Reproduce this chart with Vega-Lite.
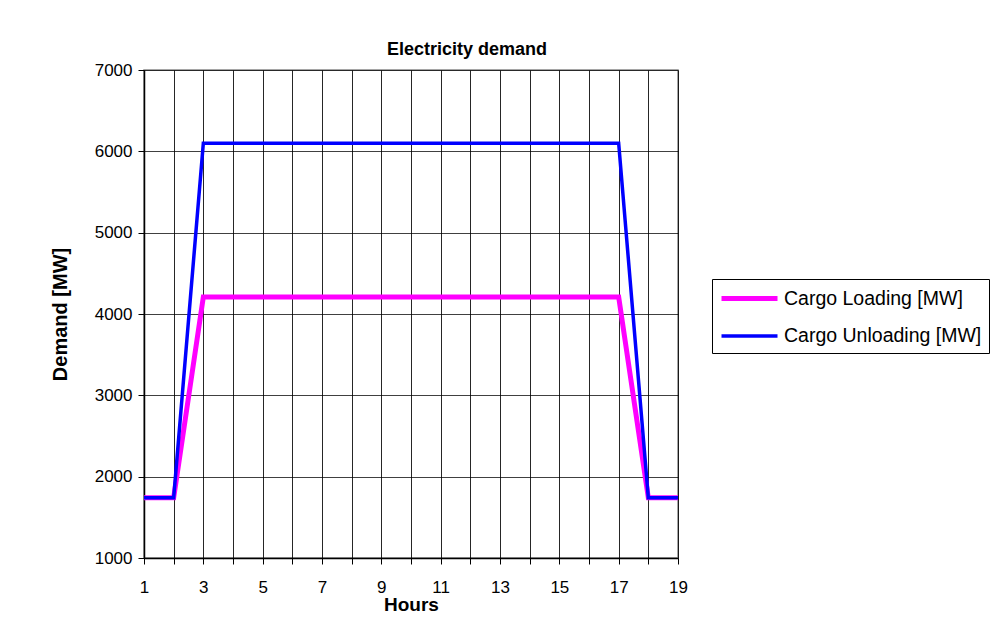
{
  "$schema": "https://vega.github.io/schema/vega-lite/v6.json",
  "width": 534,
  "height": 488,
  "autosize": {"type": "none"},
  "padding": {"left": 144, "top": 70, "right": 314, "bottom": 73},
  "background": "white",
  "title": {"text": "Electricity demand", "font": "Liberation Sans", "fontSize": 18, "fontWeight": "bold", "color": "black", "offset": 2, "dx": 56},
  "config": {
    "font": "Liberation Sans",
    "view": {"stroke": "#888", "strokeWidth": 1.5}
  },
  "data": {"values": [
    {"hour": 1, "value": 1740, "series": "Cargo Loading [MW]"},
    {"hour": 2, "value": 1740, "series": "Cargo Loading [MW]"},
    {"hour": 3, "value": 4210, "series": "Cargo Loading [MW]"},
    {"hour": 4, "value": 4210, "series": "Cargo Loading [MW]"},
    {"hour": 5, "value": 4210, "series": "Cargo Loading [MW]"},
    {"hour": 6, "value": 4210, "series": "Cargo Loading [MW]"},
    {"hour": 7, "value": 4210, "series": "Cargo Loading [MW]"},
    {"hour": 8, "value": 4210, "series": "Cargo Loading [MW]"},
    {"hour": 9, "value": 4210, "series": "Cargo Loading [MW]"},
    {"hour": 10, "value": 4210, "series": "Cargo Loading [MW]"},
    {"hour": 11, "value": 4210, "series": "Cargo Loading [MW]"},
    {"hour": 12, "value": 4210, "series": "Cargo Loading [MW]"},
    {"hour": 13, "value": 4210, "series": "Cargo Loading [MW]"},
    {"hour": 14, "value": 4210, "series": "Cargo Loading [MW]"},
    {"hour": 15, "value": 4210, "series": "Cargo Loading [MW]"},
    {"hour": 16, "value": 4210, "series": "Cargo Loading [MW]"},
    {"hour": 17, "value": 4210, "series": "Cargo Loading [MW]"},
    {"hour": 18, "value": 1740, "series": "Cargo Loading [MW]"},
    {"hour": 19, "value": 1740, "series": "Cargo Loading [MW]"},
    {"hour": 1, "value": 1740, "series": "Cargo Unloading [MW]"},
    {"hour": 2, "value": 1740, "series": "Cargo Unloading [MW]"},
    {"hour": 3, "value": 6100, "series": "Cargo Unloading [MW]"},
    {"hour": 4, "value": 6100, "series": "Cargo Unloading [MW]"},
    {"hour": 5, "value": 6100, "series": "Cargo Unloading [MW]"},
    {"hour": 6, "value": 6100, "series": "Cargo Unloading [MW]"},
    {"hour": 7, "value": 6100, "series": "Cargo Unloading [MW]"},
    {"hour": 8, "value": 6100, "series": "Cargo Unloading [MW]"},
    {"hour": 9, "value": 6100, "series": "Cargo Unloading [MW]"},
    {"hour": 10, "value": 6100, "series": "Cargo Unloading [MW]"},
    {"hour": 11, "value": 6100, "series": "Cargo Unloading [MW]"},
    {"hour": 12, "value": 6100, "series": "Cargo Unloading [MW]"},
    {"hour": 13, "value": 6100, "series": "Cargo Unloading [MW]"},
    {"hour": 14, "value": 6100, "series": "Cargo Unloading [MW]"},
    {"hour": 15, "value": 6100, "series": "Cargo Unloading [MW]"},
    {"hour": 16, "value": 6100, "series": "Cargo Unloading [MW]"},
    {"hour": 17, "value": 6100, "series": "Cargo Unloading [MW]"},
    {"hour": 18, "value": 1740, "series": "Cargo Unloading [MW]"},
    {"hour": 19, "value": 1740, "series": "Cargo Unloading [MW]"}
  ]},
  "mark": {"type": "line", "strokeCap": "butt", "strokeJoin": "miter"},
  "encoding": {
    "x": {
      "field": "hour", "type": "quantitative",
      "scale": {"domain": [1, 19], "nice": false, "zero": false},
      "axis": {
        "title": "Hours", "titleFontSize": 19, "titleFontWeight": "bold", "titleColor": "black", "titlePadding": 0,
        "values": [1,2,3,4,5,6,7,8,9,10,11,12,13,14,15,16,17,18,19],
        "labelExpr": "datum.value % 2 == 1 ? datum.label : ''",
        "labelFontSize": 17, "labelColor": "black", "labelPadding": 15, "labelFlush": false,
        "domainColor": "black", "domainWidth": 1.5,
        "tickColor": "black", "tickSize": 6, "tickWidth": 1,
        "grid": true, "gridColor": "#000", "gridOpacity": 0.85, "gridWidth": 1
      }
    },
    "y": {
      "field": "value", "type": "quantitative",
      "scale": {"domain": [1000, 7000], "nice": false, "zero": false},
      "axis": {
        "title": "Demand [MW]", "titleFontSize": 20, "titleFontWeight": "bold", "titleColor": "black", "titlePadding": 24,
        "values": [1000, 2000, 3000, 4000, 5000, 6000, 7000], "format": "d",
        "labelFontSize": 17, "labelColor": "black", "labelPadding": 6,
        "domainColor": "black", "domainWidth": 1.5,
        "tickColor": "black", "tickSize": 6,
        "grid": true, "gridColor": "#000", "gridOpacity": 0.75, "gridWidth": 1
      }
    },
    "color": {
      "field": "series", "type": "nominal",
      "scale": {"domain": ["Cargo Loading [MW]", "Cargo Unloading [MW]"], "range": ["#ff00ff", "#0000ff"]},
      "legend": {
        "title": null, "orient": "none", "legendX": 568, "legendY": 209,
        "strokeColor": "black", "fillColor": "white", "padding": 7,
        "symbolType": "M-1,0H4.6", "symbolSize": 400, "symbolStrokeWidth": 4,
        "labelFontSize": 19.5, "labelColor": "black", "labelOffset": 40, "labelLimit": 0, "rowPadding": 15
      }
    },
    "strokeWidth": {
      "field": "series", "type": "nominal",
      "scale": {"domain": ["Cargo Loading [MW]", "Cargo Unloading [MW]"], "range": [5, 3.5]},
      "legend": null
    }
  }
}
